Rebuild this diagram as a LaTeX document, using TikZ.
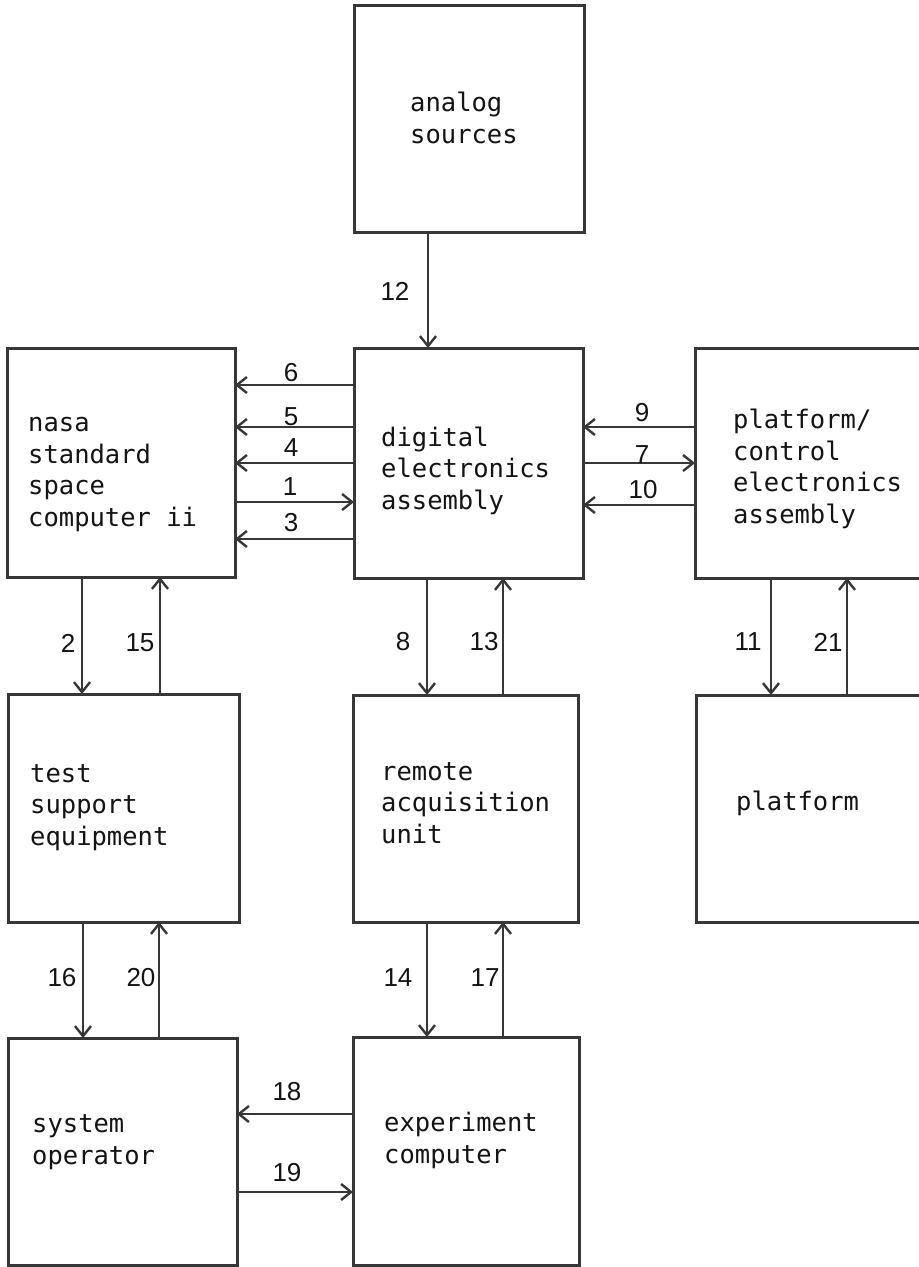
\documentclass[tikz,border=0pt]{standalone}
\usepackage{fontspec}
\newfontfamily\boxfont{DejaVu Sans Mono}
\newfontfamily\numfont{Liberation Sans}
\usetikzlibrary{arrows.meta}
\definecolor{linec}{RGB}{55,55,55}
\definecolor{textc}{RGB}{20,20,20}
\begin{document}
\begin{tikzpicture}[x=1bp,y=-1bp,
  box/.style={draw=linec, line width=3bp, inner sep=0pt, outer sep=0pt, anchor=north west},
  arr/.style={draw=linec, line width=2.4bp, -{Straight Barb[length=10bp,width=16bp]}},
  txt/.style={font=\boxfont\fontsize{25.5bp}{31.5bp}\selectfont, text=textc, align=left, inner sep=0pt, anchor=base west},
  num/.style={font=\numfont\fontsize{26bp}{30bp}\selectfont, text=textc, inner sep=0pt}]
\useasboundingbox (0,0) rectangle (919,1267);
\fill[white] (0,0) rectangle (919,1267);
\clip (0,0) rectangle (919,1267);
% boxes
\node[box, minimum width=230bp, minimum height=227bp] (analog) at (354,5) {};
\node[box, minimum width=228bp, minimum height=229bp] (nasa) at (7,348) {};
\node[box, minimum width=229bp, minimum height=230bp] (digital) at (354,348) {};
\node[box, minimum width=245bp, minimum height=230bp] (pce) at (695,348) {};
\node[box, minimum width=231bp, minimum height=228bp] (test) at (8,694) {};
\node[box, minimum width=225bp, minimum height=227bp] (remote) at (353,695) {};
\node[box, minimum width=245bp, minimum height=227bp] (platform) at (696,695) {};
\node[box, minimum width=229bp, minimum height=227bp] (system) at (8,1038) {};
\node[box, minimum width=226bp, minimum height=228bp] (experiment) at (353,1037) {};
% box texts (anchor = baseline of the last line)
\node[txt] (analog-t) at (410,143) {analog\\sources};
\node[txt] (nasa-t) at (28,526) {nasa\\standard\\space\\computer ii};
\node[txt] (digital-t) at (381,509) {digital\\electronics\\assembly};
\node[txt] (pce-t) at (733,523) {platform/\\control\\electronics\\assembly};
\node[txt] (test-t) at (30,845) {test\\support\\equipment};
\node[txt] (remote-t) at (381,843) {remote\\acquisition\\unit};
\node[txt] (platform-t) at (736,810) {platform};
\node[txt] (system-t) at (32,1164) {system\\operator};
\node[txt] (experiment-t) at (384,1163) {experiment\\computer};
% connectors
\draw[arr] (analog.south -| 428,0) -- (digital.north -| 428,0);
\draw[arr] (digital.west |- 0,385) -- (nasa.east |- 0,385);
\draw[arr] (digital.west |- 0,427) -- (nasa.east |- 0,427);
\draw[arr] (digital.west |- 0,463) -- (nasa.east |- 0,463);
\draw[arr] (nasa.east |- 0,502) -- (digital.west |- 0,502);
\draw[arr] (digital.west |- 0,539) -- (nasa.east |- 0,539);
\draw[arr] (pce.west |- 0,427) -- (digital.east |- 0,427);
\draw[arr] (digital.east |- 0,463) -- (pce.west |- 0,463);
\draw[arr] (pce.west |- 0,505) -- (digital.east |- 0,505);
\draw[arr] (nasa.south -| 82,0) -- (test.north -| 82,0);
\draw[arr] (test.north -| 160,0) -- (nasa.south -| 160,0);
\draw[arr] (digital.south -| 427,0) -- (remote.north -| 427,0);
\draw[arr] (remote.north -| 503,0) -- (digital.south -| 503,0);
\draw[arr] (pce.south -| 771,0) -- (platform.north -| 771,0);
\draw[arr] (platform.north -| 847,0) -- (pce.south -| 847,0);
\draw[arr] (test.south -| 83,0) -- (system.north -| 83,0);
\draw[arr] (system.north -| 159,0) -- (test.south -| 159,0);
\draw[arr] (remote.south -| 427,0) -- (experiment.north -| 427,0);
\draw[arr] (experiment.north -| 503,0) -- (remote.south -| 503,0);
\draw[arr] (experiment.west |- 0,1114) -- (system.east |- 0,1114);
\draw[arr] (system.east |- 0,1192) -- (experiment.west |- 0,1192);
% labels
\node[num] (l12) at (395,291) {12};
\node[num] (l6) at (291,373) {6};
\node[num] (l5) at (291,417) {5};
\node[num] (l4) at (291,448) {4};
\node[num] (l1) at (290,487) {1};
\node[num] (l3) at (291,523) {3};
\node[num] (l9) at (642,413) {9};
\node[num] (l7) at (642,455) {7};
\node[num] (l10) at (643,490) {10};
\node[num] (l2) at (68,643) {2};
\node[num] (l15) at (140,643) {15};
\node[num] (l8) at (403,642) {8};
\node[num] (l13) at (484,642) {13};
\node[num] (l11) at (748,642) {11};
\node[num] (l21) at (828,642) {21};
\node[num] (l16) at (62,978) {16};
\node[num] (l20) at (141,978) {20};
\node[num] (l14) at (398,978) {14};
\node[num] (l17) at (485,978) {17};
\node[num] (l18) at (287,1092) {18};
\node[num] (l19) at (287,1173) {19};
\end{tikzpicture}
\end{document}
